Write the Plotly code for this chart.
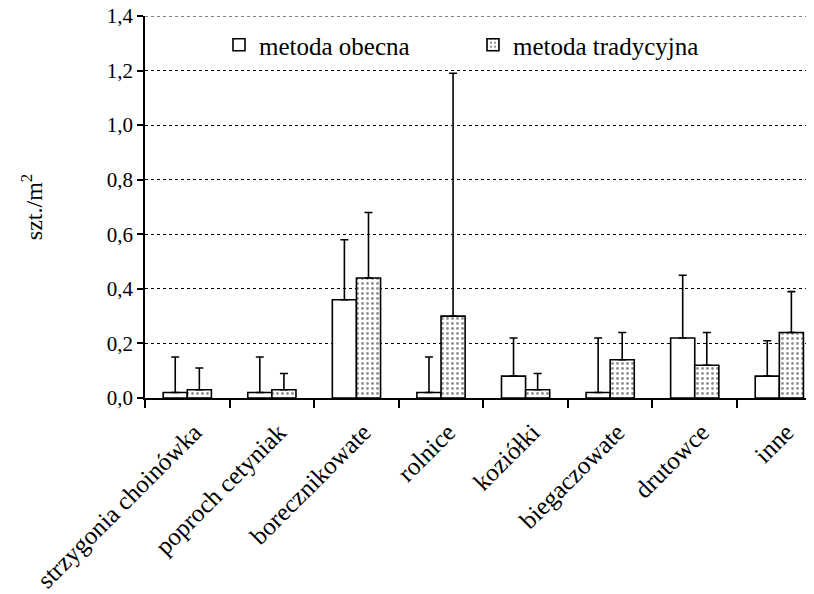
import plotly.graph_objects as go

categories = ["strzygonia choinówka", "poproch cetyniak", "borecznikowate", "rolnice",
              "koziółki", "biegaczowate", "drutowce", "inne"]
obecna = [0.02, 0.02, 0.36, 0.02, 0.08, 0.02, 0.22, 0.08]
obecna_top = [0.15, 0.15, 0.58, 0.15, 0.22, 0.22, 0.45, 0.21]
tradycyjna = [0.03, 0.03, 0.44, 0.30, 0.03, 0.14, 0.12, 0.24]
tradycyjna_top = [0.11, 0.09, 0.68, 1.19, 0.09, 0.24, 0.24, 0.39]
y_ticks = [0, 0.2, 0.4, 0.6, 0.8, 1.0, 1.2, 1.4]
y_labels = ["0,0", "0,2", "0,4", "0,6", "0,8", "1,0", "1,2", "1,4"]

FONT = "Liberation Serif"

err_o = [t - v for t, v in zip(obecna_top, obecna)]
err_t = [t - v for t, v in zip(tradycyjna_top, tradycyjna)]

fig = go.Figure()
fig.add_trace(go.Bar(
    name="metoda obecna", x=categories, y=obecna,
    marker=dict(color="white", line=dict(color="black", width=1.6)),
    error_y=dict(type="data", symmetric=False, array=err_o, arrayminus=[0]*len(err_o),
                 color="black", thickness=1.6, width=4),
))
fig.add_trace(go.Bar(
    name="metoda tradycyjna", x=categories, y=tradycyjna,
    marker=dict(color="white", line=dict(color="black", width=1.6),
                pattern=dict(shape=".", size=5, solidity=0.25, fgcolor="#222222", bgcolor="white")),
    error_y=dict(type="data", symmetric=False, array=err_t, arrayminus=[0]*len(err_t),
                 color="black", thickness=1.6, width=4),
))

# top gridline at 1,4 (plotly hides the gridline lying on the plot edge)
fig.add_shape(type="line", xref="paper", x0=0, x1=1, yref="y", y0=y_ticks[-1], y1=y_ticks[-1],
              line=dict(color="black", width=1, dash="3px,3px"), layer="below")

fig.update_layout(
    width=806, height=586,
    margin=dict(l=137, r=0, t=8, b=196),
    paper_bgcolor="white", plot_bgcolor="white",
    font=dict(family=FONT, size=22, color="black"),
    barmode="group", bargap=0.43, bargroupgap=0,
    showlegend=True,
    legend=dict(orientation="h", x=0.1106, xanchor="left", y=0.924, yanchor="middle",
                bgcolor="rgba(0,0,0,0)", font=dict(family=FONT, size=25),
                entrywidth=209, itemwidth=30, tracegroupgap=0),
)
fig.update_xaxes(
    range=[-0.5, 7.41], tickson="boundaries", ticks="outside", ticklen=8, tickwidth=1.5,
    tickcolor="black", showline=True, linecolor="black", linewidth=1.5,
    tickangle=-45, showgrid=False, tickfont=dict(family=FONT, size=25), automargin=False,
    ticklabelshift=7, ticklabelstandoff=8, ticklabeloverflow="allow",
)
fig.update_yaxes(
    range=[0, 1.4], tickvals=y_ticks, ticktext=y_labels, ticks="outside", ticklen=6,
    tickwidth=1.5, tickcolor="black", showline=True, linecolor="black", linewidth=1.5,
    showgrid=True, gridcolor="black", gridwidth=1, griddash="3px,3px",
    zeroline=False, tickfont=dict(family=FONT, size=21), automargin=False,
    ticklabeloverflow="allow",
    title=dict(text="szt./m<sup>2</sup>", font=dict(family=FONT, size=24), standoff=57),
)
fig.write_html("out.html")
